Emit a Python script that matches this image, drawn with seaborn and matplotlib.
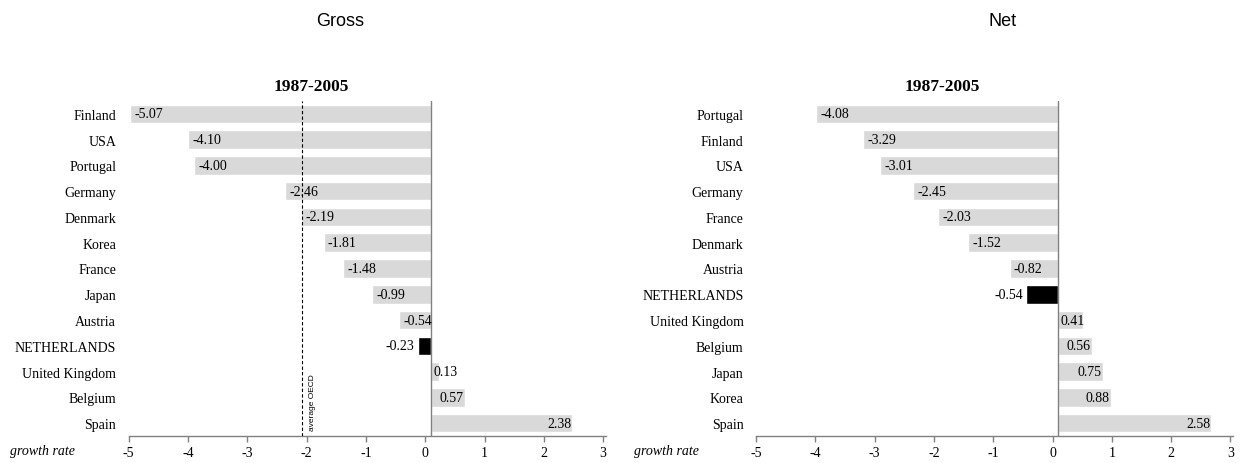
import matplotlib
matplotlib.use("Agg")
import matplotlib.pyplot as plt
import seaborn as sns
import pandas as pd

# data
gross_countries = ["Finland", "USA", "Portugal", "Germany", "Denmark", "Korea", "France",
                   "Japan", "Austria", "NETHERLANDS", "United Kingdom", "Belgium", "Spain"]
gross_values = [-5.07, -4.10, -4.00, -2.46, -2.19, -1.81, -1.48, -0.99, -0.54, -0.23, 0.13, 0.57, 2.38]

net_countries = ["Portugal", "Finland", "USA", "Germany", "France", "Denmark", "Austria",
                 "NETHERLANDS", "United Kingdom", "Belgium", "Japan", "Korea", "Spain"]
net_values = [-4.08, -3.29, -3.01, -2.45, -2.03, -1.52, -0.82, -0.54, 0.41, 0.56, 0.75, 0.88, 2.58]

oecd_avg_gross = -2.17
period = "1987-2005"
x_ticks = [-5, -4, -3, -2, -1, 0, 1, 2, 3]
tick_shift = -0.1  # the original's tick marks sit a little left of the zero line

sns.set_style("white")
plt.rcParams['font.family'] = ['Liberation Serif', 'DejaVu Serif']
plt.rcParams['text.color'] = 'black'
plt.rcParams['xtick.labelcolor'] = 'black'
plt.rcParams['ytick.labelcolor'] = 'black'

fig = plt.figure(figsize=(12.41, 4.64), dpi=100)
W, H = 1241, 464
ax1 = fig.add_axes([128.7 / W, 1 - 437 / H, 477.4 / W, 335 / H])
ax2 = fig.add_axes([756 / W, 1 - 437 / H, 477.4 / W, 335 / H])

grey = "#d9d9d9"


def draw_panel(ax, countries, values):
    df = pd.DataFrame({"country": countries, "value": values})
    pal = {c: ("black" if c == "NETHERLANDS" else grey) for c in countries}
    sns.barplot(data=df, x="value", y="country", hue="country", palette=pal,
                legend=False, width=0.72, saturation=1, ax=ax)
    ax.set_xlim(-5.1, 2.95)
    ax.set_ylim(len(countries) - 0.5, -0.5)
    ax.set_xticks([t + tick_shift for t in x_ticks])
    ax.set_xticklabels([str(t) for t in x_ticks])
    ax.set_xlabel("")
    ax.set_ylabel("")
    for s in ["top", "right", "left"]:
        ax.spines[s].set_visible(False)
    ax.spines["bottom"].set_color("#808080")
    ax.spines["bottom"].set_linewidth(1)
    ax.tick_params(axis="x", direction="out", length=4, width=1, color="#808080",
                   labelsize=10, pad=3, bottom=True)
    ax.tick_params(axis="y", length=0, labelsize=10, pad=9)
    ax.axvline(0, color="#808080", lw=1, zorder=3)

    # value labels, placed like the original
    for i, (c, v) in enumerate(zip(countries, values)):
        txt = f"{v:.2f}"
        if c == "NETHERLANDS":
            ax.text(v - 0.05, i, txt, ha="right", va="center", fontsize=10)
        elif v < 0:
            ax.text(v + 0.07, i, txt, ha="left", va="center", fontsize=10)
        elif v < 0.5:
            ax.text(0.04, i, txt, ha="left", va="center", fontsize=10)
        else:
            ax.text(v - 0.02, i, txt, ha="right", va="center", fontsize=10)


draw_panel(ax1, gross_countries, gross_values)
draw_panel(ax2, net_countries, net_values)

# OECD average line on the gross panel
ax1.axvline(oecd_avg_gross, color="black", lw=0.8, ls=(0, (3, 2)), zorder=4)
ax1.text(oecd_avg_gross + 0.17, 12.27, "average OECD", rotation=90, ha="center",
         va="bottom", fontsize=6, family=['Liberation Sans', 'DejaVu Sans'])

# titles
fig.text(340 / W, 1 - 22 / H, "Gross", ha="center", va="center",
         fontsize=13, family=['Liberation Sans', 'DejaVu Sans'])
fig.text(1003 / W, 1 - 22 / H, "Net", ha="center", va="center",
         fontsize=13, family=['Liberation Sans', 'DejaVu Sans'])
fig.text(311 / W, 1 - 87 / H, period, ha="center", va="center",
         fontsize=12.5, fontweight="bold")
fig.text(942 / W, 1 - 87 / H, period, ha="center", va="center",
         fontsize=12.5, fontweight="bold")

fig.text(10 / W, 1 - 452 / H, "growth rate", ha="left", va="center",
         fontsize=10, style="italic")
fig.text(634 / W, 1 - 452 / H, "growth rate", ha="left", va="center",
         fontsize=10, style="italic")

fig.savefig("out.png", dpi=100)
